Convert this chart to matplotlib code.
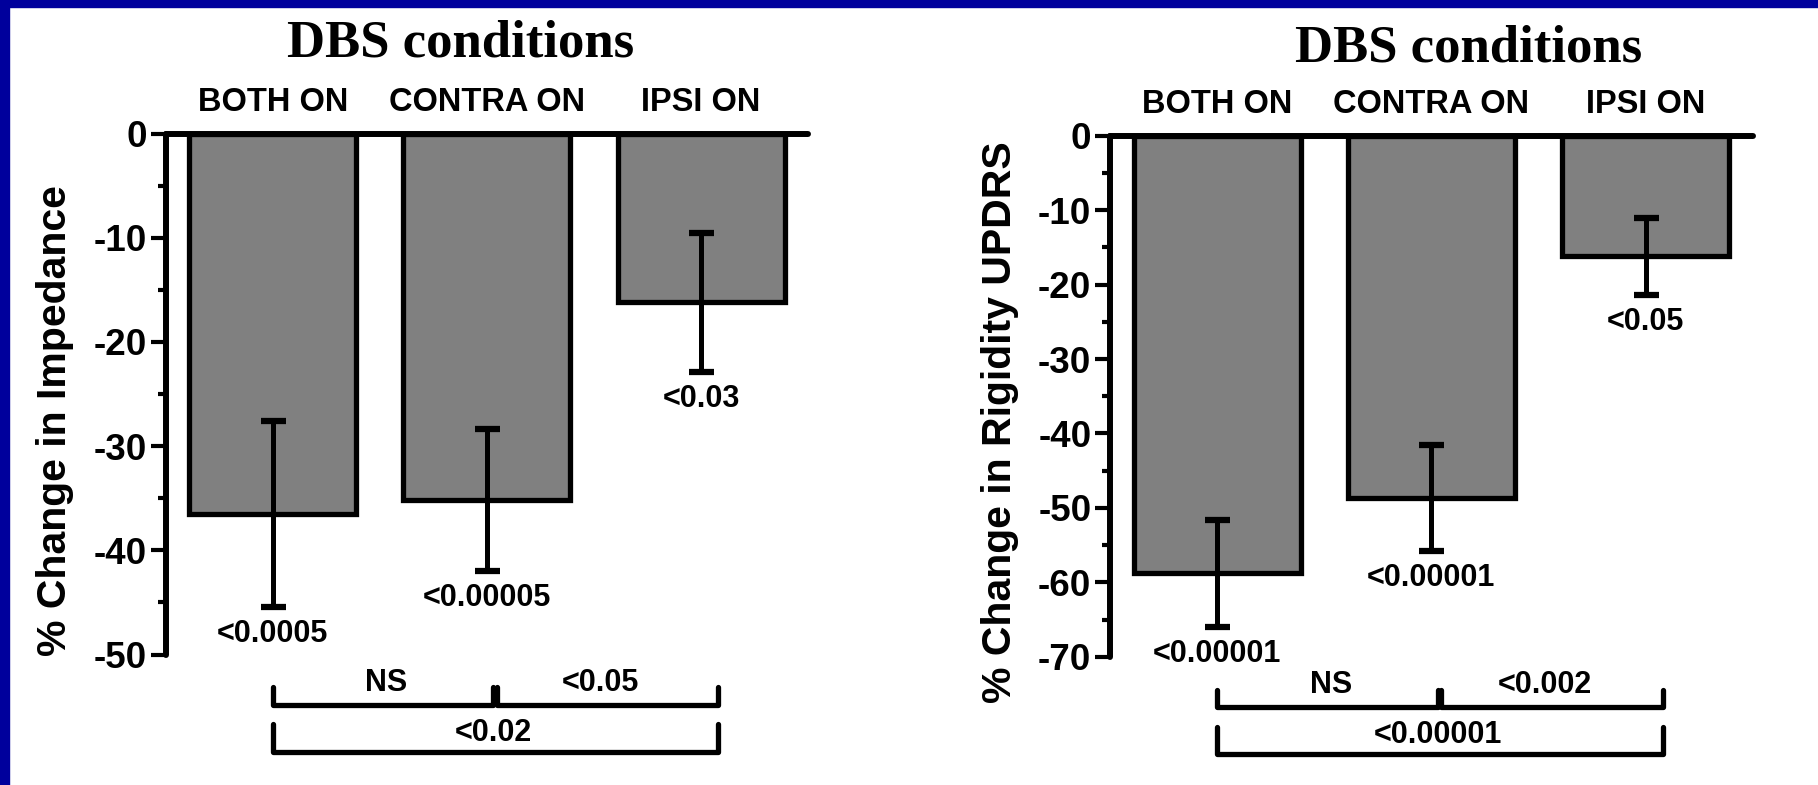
import numpy as np
import matplotlib
matplotlib.use('Agg')
import matplotlib.pyplot as plt
from matplotlib.patches import Rectangle
from matplotlib.ticker import MultipleLocator
from matplotlib.transforms import blended_transform_factory

plt.rcParams['font.family'] = ['Liberation Sans', 'DejaVu Sans']
plt.rcParams['font.weight'] = 'bold'
plt.rcParams['axes.labelweight'] = 'bold'
plt.rcParams['axes.unicode_minus'] = False

# data
categories = ['BOTH ON', 'CONTRA ON', 'IPSI ON']

imp_mean = [-36.5, -35.2, -16.2]
imp_err = [8.9, 6.8, 6.7]
imp_p = ['<0.0005', '<0.00005', '<0.03']
imp_pairs = [(0, 1, 'NS'), (1, 2, '<0.05'), (0, 2, '<0.02')]

rig_mean = [-58.8, -48.7, -16.2]
rig_err = [7.2, 7.1, 5.2]
rig_p = ['<0.00001', '<0.00001', '<0.05']
rig_pairs = [(0, 1, 'NS'), (1, 2, '<0.002'), (0, 2, '<0.00001')]


def draw_panel(ax, means, errs, pvals, pairs, ymin, ylabel):
    x = np.arange(len(categories))
    ax.bar(x, means, width=0.78, color='#808080', edgecolor='black',
           linewidth=3.8, zorder=2)
    ax.errorbar(x, means, yerr=errs, fmt='none', ecolor='black',
                elinewidth=3.6, capsize=9, capthick=4.5, zorder=3)
    for xi, m, e, p in zip(x, means, errs, pvals):
        ax.annotate(p, (xi, m - e), xytext=(0, -19.5), textcoords='offset points',
                    ha='center', va='center', fontsize=22, annotation_clip=False)

    ax.set_xlim(-0.5, 2.5)
    ax.set_ylim(ymin, 0)
    ax.set_yticks(np.arange(ymin, 1, 10))
    ax.yaxis.set_minor_locator(MultipleLocator(5))
    ax.tick_params(axis='y', which='major', direction='out', length=10.5,
                   width=3, labelsize=26.5, pad=3)
    ax.tick_params(axis='y', which='minor', direction='out', length=6, width=3)

    ax.xaxis.tick_top()
    ax.set_xticks(x, categories)
    ax.set_xticks([0.5, 1.5], minor=True)
    ax.tick_params(axis='x', which='both', direction='out', length=2, width=2,
                   labelsize=23.5, pad=9)

    for side in ['bottom', 'right']:
        ax.spines[side].set_visible(False)
    for side in ['top', 'left']:
        ax.spines[side].set_linewidth(4.3)
        ax.spines[side].set_capstyle('round')

    ax.set_ylabel(ylabel, fontsize=29.5, labelpad=14)
    ax.yaxis.label.set_y(0.45)

    # comparison brackets under the plot
    trans = blended_transform_factory(ax.transData, ax.transAxes)
    for i, j, lab in pairs:
        x0 = i if i == 0 else i + 0.045
        x1 = j + 0.03 if j < 2 else j + 0.08
        if j - i == 1:
            line_y, top_y, text_y = -0.097, -0.063, -0.054
        else:
            line_y, top_y, text_y = -0.187, -0.134, -0.150
        ax.plot([x0, x0, x1, x1], [top_y, line_y, line_y, top_y], transform=trans,
                clip_on=False, color='black', lw=3.8,
                solid_joinstyle='round', solid_capstyle='round')
        ax.text((i + j) / 2 + 0.03, text_y, lab, transform=trans,
                ha='center', va='center', fontsize=22)


fig = plt.figure(figsize=(18.18, 7.85), dpi=100)

ax1 = fig.add_axes([0.0911, 0.1662, 0.3535, 0.6637])
draw_panel(ax1, imp_mean, imp_err, imp_p, imp_pairs, -50, '% Change in Impedance')

ax2 = fig.add_axes([0.6106, 0.1634, 0.3535, 0.6637])
draw_panel(ax2, rig_mean, rig_err, rig_p, rig_pairs, -70, '% Change in Rigidity UPDRS')

fig.text(0.2532, 0.9278, 'DBS conditions', family='Liberation Serif',
         weight='bold', size=38, ha='center', va='baseline')
fig.text(0.808, 0.9214, 'DBS conditions', family='Liberation Serif',
         weight='bold', size=38, ha='center', va='baseline')

# blue slide border (top and left edges)
navy = '#00009c'
fig.patches.append(Rectangle((0, 1 - 7 / 785), 1, 7 / 785, transform=fig.transFigure,
                             color=navy, zorder=10))
fig.patches.append(Rectangle((0, 0), 9 / 1818, 1, transform=fig.transFigure,
                             color=navy, zorder=10))

fig.savefig('out.png', dpi=100)
